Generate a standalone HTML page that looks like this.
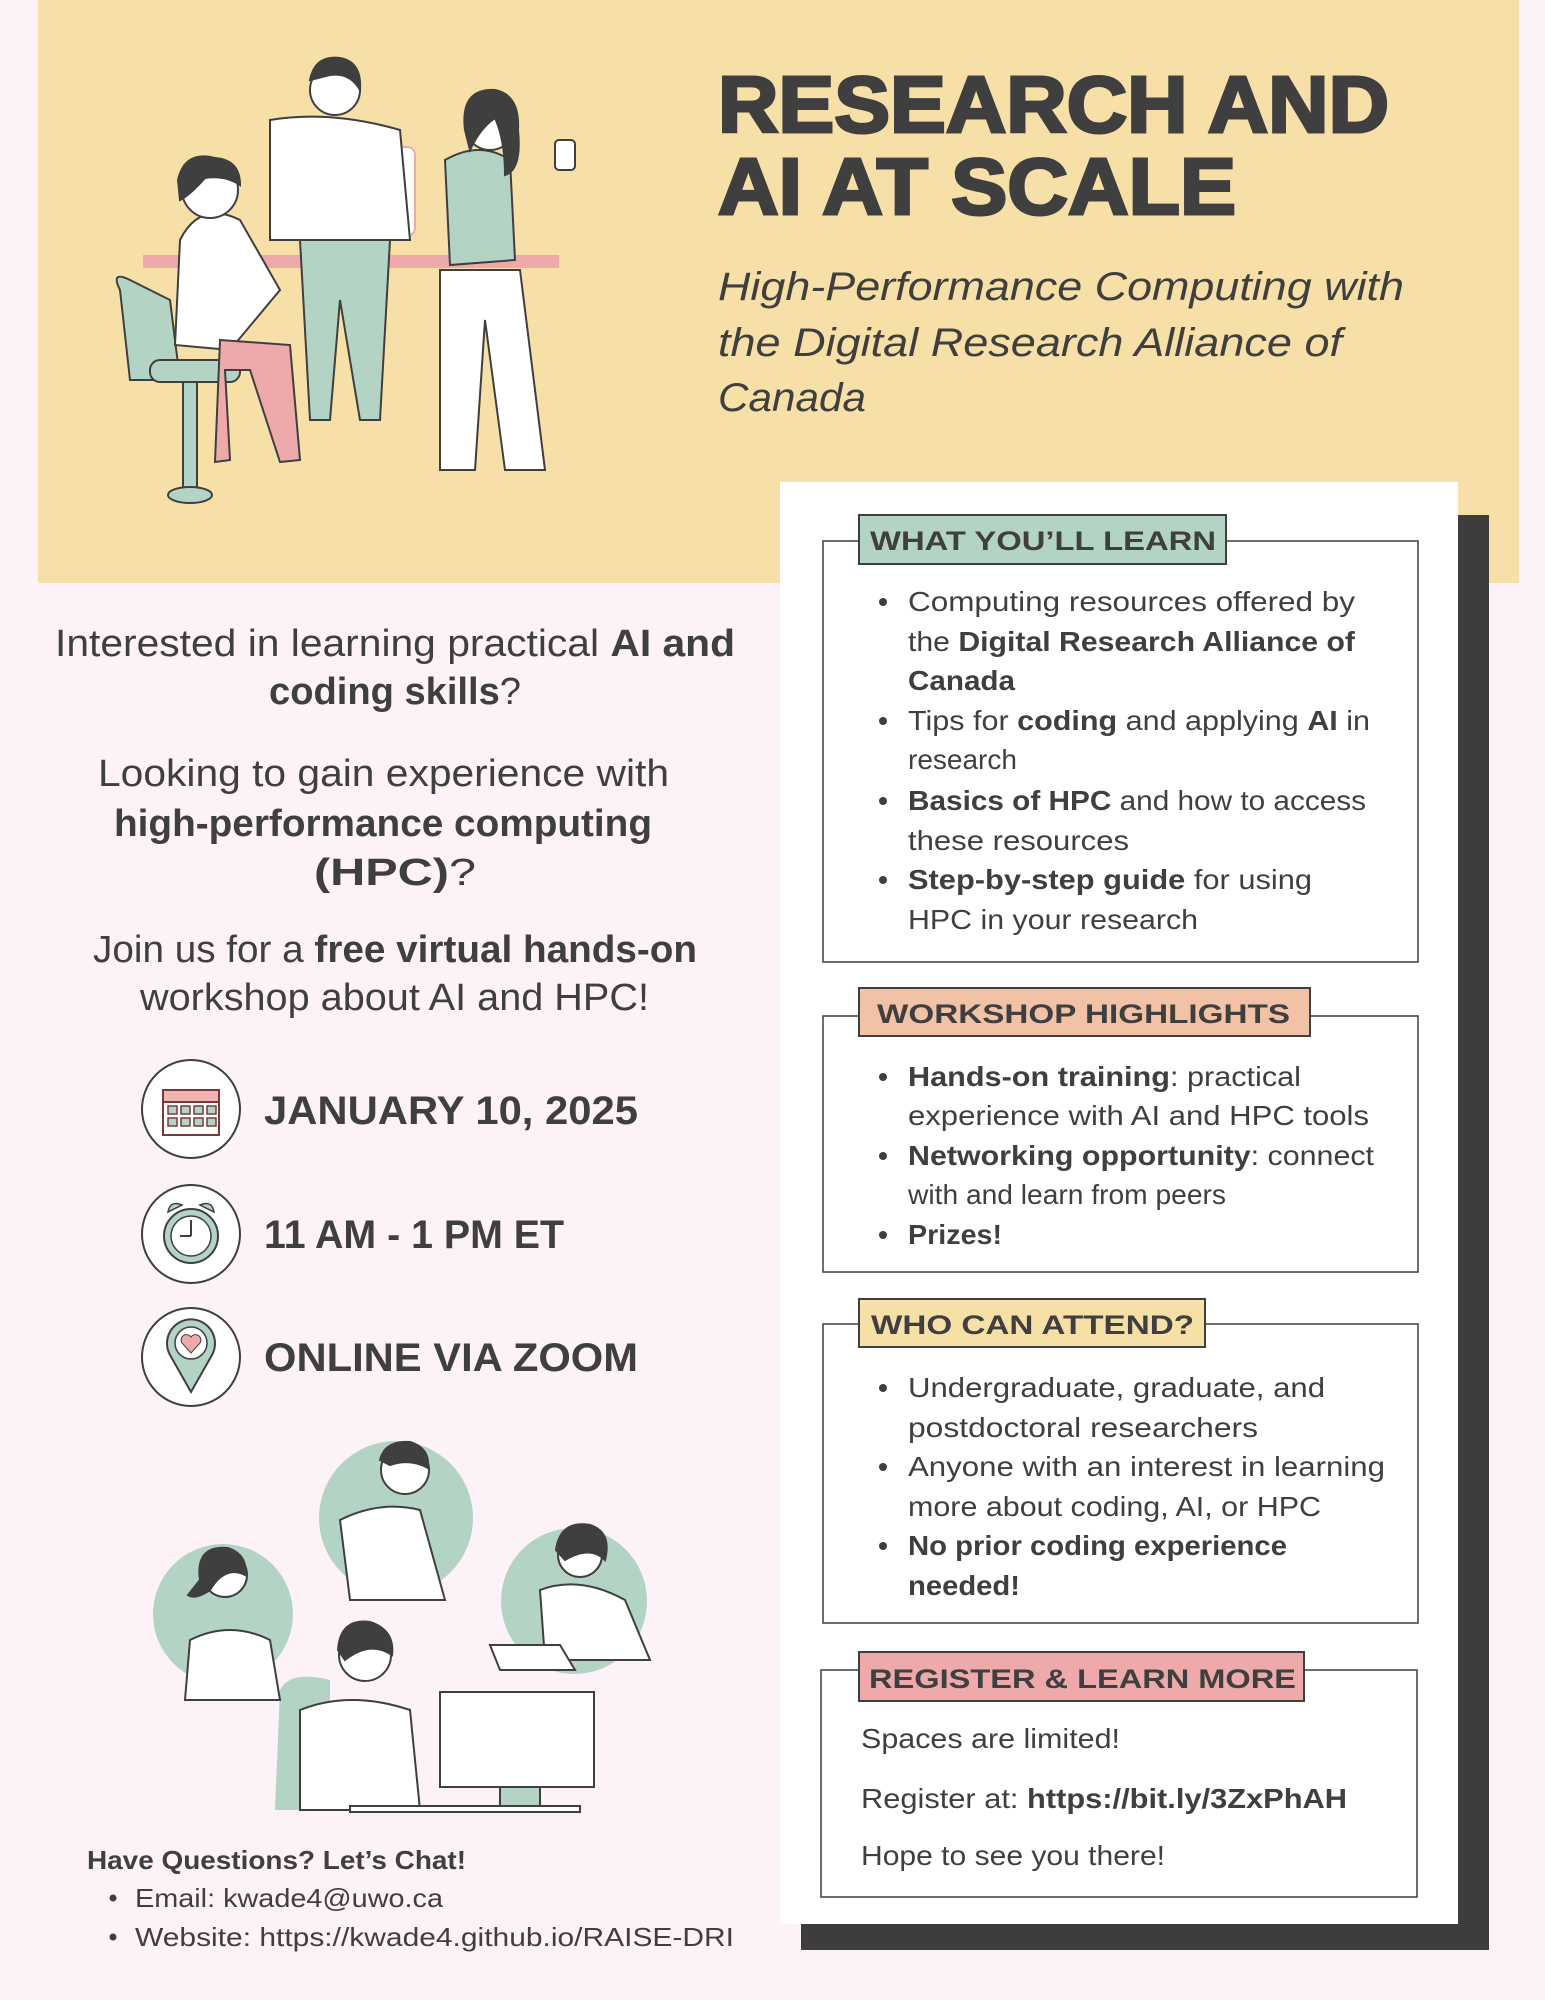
<!DOCTYPE html>
<html><head><meta charset="utf-8"><style>
html,body{margin:0;padding:0;background:#fdf2f8}
svg{display:block}
text{font-family:"Liberation Sans",sans-serif;fill:#3f3f3f}
.b{font-weight:bold}
</style></head><body>
<svg width="1545" height="2000" viewBox="0 0 1545 2000">
<rect x="0" y="0" width="1545" height="2000" fill="#fdf2f8"/>
<rect x="38" y="0" width="1481" height="583" fill="#f7e0a7"/>

<!-- top illustration -->
<g stroke="#3f3f3f" stroke-width="2">
  <path d="M120 290 Q110 270 130 280 L170 300 L180 380 L130 380 Z" fill="#b3d3c5"/>
  <rect x="150" y="360" width="90" height="22" rx="10" fill="#b3d3c5"/>
  <rect x="183" y="382" width="14" height="110" fill="#b3d3c5"/>
  <ellipse cx="190" cy="495" rx="22" ry="8" fill="#b3d3c5"/>
  <rect x="143" y="255" width="416" height="13" fill="#eeaaab" stroke="none"/>
  <rect x="287" y="147" width="128" height="89" rx="8" fill="#fff" stroke="#eeaaab"/>
  <path d="M180 240 Q200 200 240 220 L280 290 L230 350 L175 345 Z" fill="#fff"/>
  <path d="M220 340 L290 345 L300 460 L280 462 L250 370 L225 370 L230 460 L215 462 Z" fill="#eeaaab"/>
  <circle cx="210" cy="190" r="28" fill="#fff"/>
  <path d="M178 180 Q185 150 215 158 Q240 160 240 185 Q225 175 205 178 Q190 195 180 200 Z" fill="#3f3f3f"/>
  <path d="M270 120 Q330 110 400 130 L410 240 L270 240 Z" fill="#fff"/>
  <path d="M300 240 L390 240 L380 420 L360 420 L340 300 L330 420 L310 420 Z" fill="#b3d3c5"/>
  <circle cx="335" cy="90" r="25" fill="#fff"/>
  <path d="M310 80 Q315 55 340 58 Q362 62 360 90 Q350 72 330 75 Z" fill="#3f3f3f"/>
  <path d="M445 160 Q480 140 510 160 L515 260 L450 265 Z" fill="#b3d3c5"/>
  <path d="M440 270 L520 270 L545 470 L505 470 L485 320 L475 470 L440 470 Z" fill="#fff"/>
  <circle cx="490" cy="125" r="25" fill="#fff"/>
  <path d="M465 130 Q460 88 495 90 Q520 95 518 130 Q522 170 505 175 Q505 140 495 118 Q480 128 470 150 Z" fill="#3f3f3f"/>
  <rect x="555" y="140" width="20" height="30" rx="4" fill="#fff"/>
</g>

<!-- title -->
<text x="718" y="132" class="b" font-size="80" textLength="671" lengthAdjust="spacingAndGlyphs" stroke="#3f3f3f" stroke-width="3">RESEARCH AND</text>
<text x="718" y="214" class="b" font-size="80" textLength="518" lengthAdjust="spacingAndGlyphs" stroke="#3f3f3f" stroke-width="3">AI AT SCALE</text>
<g font-style="italic" font-size="40">
<text x="718" y="300" font-style="italic" textLength="686" lengthAdjust="spacingAndGlyphs">High-Performance Computing with</text>
<text x="718" y="356" font-style="italic" textLength="624" lengthAdjust="spacingAndGlyphs">the Digital Research Alliance of</text>
<text x="718" y="411" font-style="italic" textLength="148" lengthAdjust="spacingAndGlyphs">Canada</text>
</g>

<!-- left intro text -->
<g font-size="38">
<text x="55" y="656" textLength="680" lengthAdjust="spacingAndGlyphs">Interested in learning practical <tspan class="b">AI and</tspan></text>
<text x="269" y="704" textLength="252" lengthAdjust="spacingAndGlyphs"><tspan class="b">coding skills</tspan>?</text>
<text x="98" y="786" textLength="571" lengthAdjust="spacingAndGlyphs">Looking to gain experience with</text>
<text x="114" y="836" textLength="538" lengthAdjust="spacingAndGlyphs" class="b">high-performance computing</text>
<text x="314" y="885" textLength="162" lengthAdjust="spacingAndGlyphs"><tspan class="b">(HPC)</tspan>?</text>
<text x="93" y="962" textLength="604" lengthAdjust="spacingAndGlyphs">Join us for a <tspan class="b">free virtual hands-on</tspan></text>
<text x="140" y="1010" textLength="509" lengthAdjust="spacingAndGlyphs">workshop about AI and HPC!</text>
</g>

<!-- event info -->
<g>
<circle cx="191" cy="1109" r="49" fill="#fff" stroke="#3f3f3f" stroke-width="2"/>
<rect x="163" y="1090" width="56" height="45" fill="#fff" stroke="#7a3a3a" stroke-width="2"/>
<rect x="163" y="1090" width="56" height="12" fill="#f2b3b3" stroke="#7a3a3a" stroke-width="2"/>
<g fill="#b3d3c5" stroke="#7a3a3a" stroke-width="1.5"><rect x="168" y="1106" width="9" height="8"/><rect x="181" y="1106" width="9" height="8"/><rect x="194" y="1106" width="9" height="8"/><rect x="207" y="1106" width="9" height="8"/><rect x="168" y="1118" width="9" height="8"/><rect x="181" y="1118" width="9" height="8"/><rect x="194" y="1118" width="9" height="8"/><rect x="207" y="1118" width="9" height="8"/></g>
</g>
<text x="264" y="1124" class="b" font-size="40" textLength="374" lengthAdjust="spacingAndGlyphs">JANUARY 10, 2025</text>
<g>
<circle cx="191" cy="1234" r="49" fill="#fff" stroke="#3f3f3f" stroke-width="2"/>
<circle cx="191" cy="1236" r="27" fill="#b3d3c5" stroke="#3f3f3f" stroke-width="2"/>
<circle cx="191" cy="1236" r="20" fill="#fff" stroke="#3f3f3f" stroke-width="1.5"/>
<path d="M191 1236 V1220 M191 1236 H180" stroke="#3f3f3f" stroke-width="2"/>
<path d="M168 1212 Q170 1200 182 1205 Z M214 1212 Q212 1200 200 1205 Z" fill="#b3d3c5" stroke="#3f3f3f" stroke-width="1.5"/>
</g>
<text x="264" y="1248" class="b" font-size="40" textLength="300" lengthAdjust="spacingAndGlyphs">11 AM - 1 PM ET</text>
<g>
<circle cx="191" cy="1357" r="49" fill="#fff" stroke="#3f3f3f" stroke-width="2"/>
<path d="M191 1392 L170 1355 A24 24 0 1 1 212 1355 Z" fill="#b3d3c5" stroke="#3f3f3f" stroke-width="2"/>
<circle cx="191" cy="1343" r="16" fill="#fff" stroke="#3f3f3f" stroke-width="1.5"/>
<path d="M191 1353 L182 1343 A5 5 0 0 1 191 1337 A5 5 0 0 1 200 1343 Z" fill="#eeaaab" stroke="#3f3f3f" stroke-width="1"/>
</g>
<text x="264" y="1371" class="b" font-size="40" textLength="374" lengthAdjust="spacingAndGlyphs">ONLINE VIA ZOOM</text>

<!-- bottom illustration -->
<g stroke="#3f3f3f" stroke-width="2">
  <circle cx="396" cy="1518" r="77" fill="#b3d3c5" stroke="none"/>
  <circle cx="574" cy="1601" r="73" fill="#b3d3c5" stroke="none"/>
  <circle cx="223" cy="1614" r="70" fill="#b3d3c5" stroke="none"/>
  <path d="M280 1690 Q290 1670 330 1680 L330 1810 L275 1810 Z" fill="#b3d3c5" stroke="none"/>
  <path d="M340 1520 Q380 1500 420 1510 L445 1600 L350 1600 Z" fill="#fff"/>
  <circle cx="405" cy="1470" r="24" fill="#fff"/>
  <path d="M380 1460 Q385 1440 410 1442 Q430 1448 428 1468 Q410 1458 390 1465 Z" fill="#3f3f3f"/>
  <path d="M190 1640 Q230 1620 270 1640 L280 1700 L185 1700 Z" fill="#fff"/>
  <circle cx="225" cy="1575" r="22" fill="#fff"/>
  <path d="M200 1580 Q195 1545 228 1548 Q248 1555 245 1575 Q225 1565 210 1590 Q195 1600 188 1595 Z" fill="#3f3f3f"/>
  <path d="M540 1590 Q580 1575 625 1600 L650 1660 L545 1660 Z" fill="#fff"/>
  <circle cx="580" cy="1555" r="22" fill="#fff"/>
  <path d="M556 1550 Q560 1520 590 1525 Q612 1532 605 1560 Q590 1545 565 1560 Z" fill="#3f3f3f"/>
  <path d="M490 1645 L560 1645 L575 1670 L500 1670 Z" fill="#fff"/>
  <path d="M300 1710 Q350 1690 410 1710 L420 1810 L300 1810 Z" fill="#fff"/>
  <circle cx="365" cy="1655" r="26" fill="#fff"/>
  <path d="M338 1650 Q340 1618 370 1622 Q395 1630 392 1655 Q370 1640 345 1660 Z" fill="#3f3f3f"/>
  <rect x="440" y="1692" width="154" height="95" fill="#fff"/>
  <rect x="500" y="1787" width="40" height="22" fill="#b3d3c5"/>
  <rect x="350" y="1806" width="230" height="6" fill="#fff"/>
</g>

<!-- contact -->
<text x="87" y="1869" class="b" font-size="26" textLength="379" lengthAdjust="spacingAndGlyphs">Have Questions? Let’s Chat!</text>
<circle cx="113" cy="1898" r="3.5" fill="#3f3f3f"/>
<text x="135" y="1907" font-size="26" textLength="308" lengthAdjust="spacingAndGlyphs">Email: kwade4@uwo.ca</text>
<circle cx="113" cy="1937" r="3.5" fill="#3f3f3f"/>
<text x="135" y="1946" font-size="26" textLength="599" lengthAdjust="spacingAndGlyphs">Website: https://kwade4.github.io/RAISE-DRI</text>

<!-- right card -->
<rect x="801" y="515" width="688" height="1435" fill="#3d3d3d"/>
<rect x="780" y="482" width="678" height="1442" fill="#ffffff"/>

<!-- box 1 -->
<g>
<rect x="823" y="541" width="595" height="421" fill="none" stroke="#3f3f3f" stroke-width="1.5"/>
<rect x="859" y="515" width="367" height="49" fill="#b3d3c5" stroke="#3f3f3f" stroke-width="2"/>
<text x="870" y="550" class="b" font-size="27" textLength="346" lengthAdjust="spacingAndGlyphs">WHAT YOU’LL LEARN</text>
<g font-size="28">
<circle cx="883" cy="602" r="4" fill="#3f3f3f"/><circle cx="883" cy="721" r="4" fill="#3f3f3f"/><circle cx="883" cy="801" r="4" fill="#3f3f3f"/><circle cx="883" cy="880" r="4" fill="#3f3f3f"/>
<text x="908" y="611" textLength="447" lengthAdjust="spacingAndGlyphs">Computing resources offered by</text>
<text x="908" y="651" textLength="447" lengthAdjust="spacingAndGlyphs">the <tspan class="b">Digital Research Alliance of</tspan></text>
<text x="908" y="690" class="b" textLength="107" lengthAdjust="spacingAndGlyphs">Canada</text>
<text x="908" y="730" textLength="462" lengthAdjust="spacingAndGlyphs">Tips for <tspan class="b">coding</tspan> and applying <tspan class="b">AI</tspan> in</text>
<text x="908" y="769">research</text>
<text x="908" y="810" textLength="458" lengthAdjust="spacingAndGlyphs"><tspan class="b">Basics of HPC</tspan> and how to access</text>
<text x="908" y="850" textLength="221" lengthAdjust="spacingAndGlyphs">these resources</text>
<text x="908" y="889" textLength="404" lengthAdjust="spacingAndGlyphs"><tspan class="b">Step-by-step guide</tspan> for using</text>
<text x="908" y="929" textLength="290" lengthAdjust="spacingAndGlyphs">HPC in your research</text>
</g></g>

<!-- box 2 -->
<g>
<rect x="823" y="1016" width="595" height="256" fill="none" stroke="#3f3f3f" stroke-width="1.5"/>
<rect x="859" y="988" width="451" height="48" fill="#f2c2a6" stroke="#3f3f3f" stroke-width="2"/>
<text x="877" y="1023" class="b" font-size="27" textLength="413" lengthAdjust="spacingAndGlyphs">WORKSHOP HIGHLIGHTS</text>
<g font-size="28">
<circle cx="883" cy="1077" r="4" fill="#3f3f3f"/><circle cx="883" cy="1156" r="4" fill="#3f3f3f"/><circle cx="883" cy="1235" r="4" fill="#3f3f3f"/>
<text x="908" y="1086" textLength="393" lengthAdjust="spacingAndGlyphs"><tspan class="b">Hands-on training</tspan>: practical</text>
<text x="908" y="1125" textLength="461" lengthAdjust="spacingAndGlyphs">experience with AI and HPC tools</text>
<text x="908" y="1165" textLength="466" lengthAdjust="spacingAndGlyphs"><tspan class="b">Networking opportunity</tspan>: connect</text>
<text x="908" y="1204" textLength="318" lengthAdjust="spacingAndGlyphs">with and learn from peers</text>
<text x="908" y="1244" class="b" textLength="94" lengthAdjust="spacingAndGlyphs">Prizes!</text>
</g></g>

<!-- box 3 -->
<g>
<rect x="823" y="1324" width="595" height="299" fill="none" stroke="#3f3f3f" stroke-width="1.5"/>
<rect x="859" y="1299" width="346" height="48" fill="#f7e0a7" stroke="#3f3f3f" stroke-width="2"/>
<text x="871" y="1334" class="b" font-size="27" textLength="323" lengthAdjust="spacingAndGlyphs">WHO CAN ATTEND?</text>
<g font-size="28">
<circle cx="883" cy="1388" r="4" fill="#3f3f3f"/><circle cx="883" cy="1467" r="4" fill="#3f3f3f"/><circle cx="883" cy="1546" r="4" fill="#3f3f3f"/>
<text x="908" y="1397" textLength="417" lengthAdjust="spacingAndGlyphs">Undergraduate, graduate, and</text>
<text x="908" y="1437" textLength="350" lengthAdjust="spacingAndGlyphs">postdoctoral researchers</text>
<text x="908" y="1476" textLength="477" lengthAdjust="spacingAndGlyphs">Anyone with an interest in learning</text>
<text x="908" y="1516" textLength="413" lengthAdjust="spacingAndGlyphs">more about coding, AI, or HPC</text>
<text x="908" y="1555" class="b" textLength="379" lengthAdjust="spacingAndGlyphs">No prior coding experience</text>
<text x="908" y="1595" class="b" textLength="112" lengthAdjust="spacingAndGlyphs">needed!</text>
</g></g>

<!-- box 4 -->
<g>
<rect x="821" y="1670" width="596" height="227" fill="none" stroke="#3f3f3f" stroke-width="1.5"/>
<rect x="859" y="1652" width="445" height="49" fill="#eeaaab" stroke="#3f3f3f" stroke-width="2"/>
<text x="869" y="1688" class="b" font-size="27" textLength="427" lengthAdjust="spacingAndGlyphs">REGISTER &amp; LEARN MORE</text>
<g font-size="28">
<text x="861" y="1748" textLength="259" lengthAdjust="spacingAndGlyphs">Spaces are limited!</text>
<text x="861" y="1808" textLength="486" lengthAdjust="spacingAndGlyphs">Register at: <tspan class="b">https://bit.ly/3ZxPhAH</tspan></text>
<text x="861" y="1865" textLength="304" lengthAdjust="spacingAndGlyphs">Hope to see you there!</text>
</g></g>
</svg>
</body></html>
